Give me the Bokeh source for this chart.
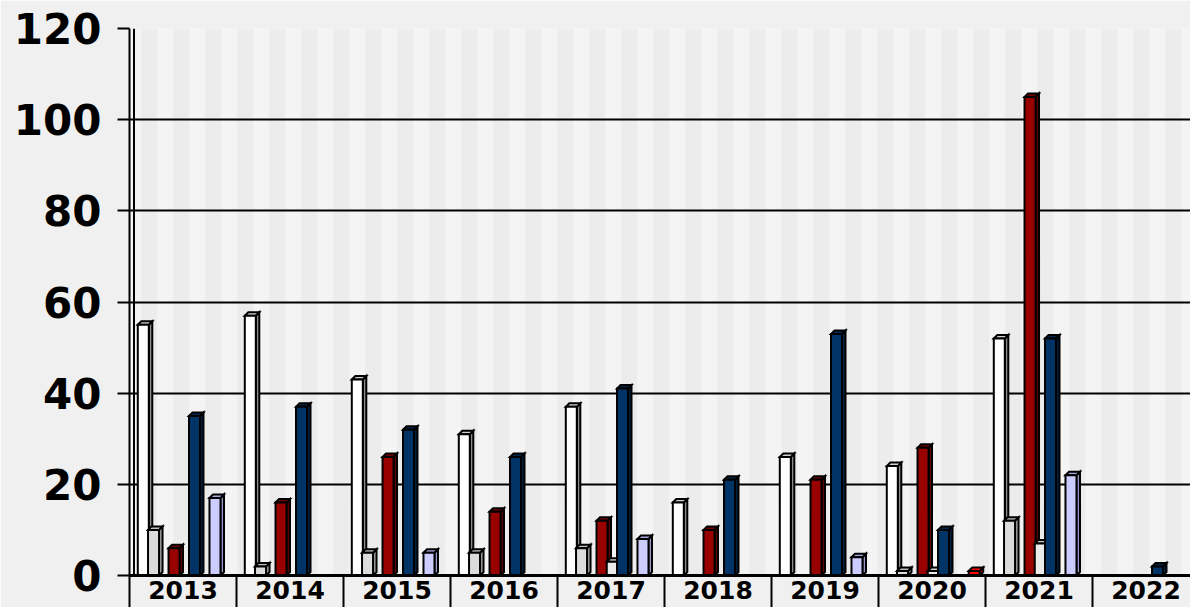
from bokeh.plotting import figure
from bokeh.models import Range1d, FixedTicker, Span, ColumnDataSource
from bokeh.embed import file_html
from bokeh.resources import INLINE

# ---------------- data ----------------
years = ["2013", "2014", "2015", "2016", "2017", "2018", "2019", "2020", "2021", "2022"]
series_white = [55, 57, 43, 31, 37, 16, 26, 24, 52, 0]
series_lightgray = [10, 2, 5, 5, 6, 0, 0, 1, 12, 0]
series_empty1 = [0, 0, 0, 0, 0, 0, 0, 0, 0, 0]
series_darkred = [6, 16, 26, 14, 12, 10, 21, 28, 105, 0]
series_pale = [0, 0, 0, 0, 3, 0, 0, 1, 7, 0]
series_navy = [35, 37, 32, 26, 41, 21, 53, 10, 52, 2]
series_empty2 = [0, 0, 0, 0, 0, 0, 0, 0, 0, 0]
series_lavender = [17, 0, 5, 0, 8, 0, 4, 0, 22, 0]
series_red = [0, 0, 0, 0, 0, 0, 0, 1, 0, 0]
y_ticks = [0, 20, 40, 60, 80, 100, 120]

all_series = [series_white, series_lightgray, series_empty1, series_darkred, series_pale,
              series_navy, series_empty2, series_lavender, series_red]
# (front, side, top) colours
styles = [("#ffffff", "#8c8c8c", "#d0d0d0"),
          ("#dcdcdc", "#a0a0a0", "#bdbdbd"),
          ("#cccccc", "#999999", "#b0b0b0"),
          ("#990000", "#5c0000", "#700000"),
          ("#ebebeb", "#b0b0b0", "#cfcfcf"),
          ("#003366", "#001f3f", "#00264d"),
          ("#cccccc", "#999999", "#b0b0b0"),
          ("#ccccff", "#9999cc", "#a8a8dc"),
          ("#ff0000", "#b30000", "#ff0000")]

# ---------------- layout ----------------
W, H = 1190, 607
LEFT, TOP, BOTTOM = 129, 28, 32
CAT_PX = 107.0
FRAME_W = W - LEFT
x_end = FRAME_W / CAT_PX
px_y = (H - TOP - BOTTOM) / 120.0

p = figure(width=W, height=H, output_backend="svg", toolbar_location=None,
           x_range=Range1d(0, x_end), y_range=Range1d(0, 120),
           min_border_left=LEFT, min_border_right=0, min_border_top=TOP,
           min_border_bottom=BOTTOM)
p.outline_line_color = None
p.background_fill_color = "#f4f4f4"
p.border_fill_color = "#f0f0f0"

# subtle vertical background stripes (decoration, 16px wide every 32px)
stripe_l, stripe_r = [], []
sx = 12.7
while sx < W:
    if sx + 16 > LEFT:
        stripe_l.append((max(sx, LEFT) - LEFT) / CAT_PX)
        stripe_r.append((min(sx + 16, W) - LEFT) / CAT_PX)
    sx += 32
p.quad(left=stripe_l, right=stripe_r, bottom=0, top=120, fill_color="#ececec",
       line_color=None, level="image")

# grid
p.xgrid.visible = False
p.ygrid.ticker = FixedTicker(ticks=y_ticks)
p.ygrid.grid_line_color = "#000000"
p.ygrid.grid_line_width = 2

# y axis
p.yaxis.ticker = FixedTicker(ticks=y_ticks)
p.yaxis.axis_line_color = "#000000"
p.yaxis.axis_line_width = 2
p.yaxis.major_tick_out = 12
p.yaxis.major_tick_in = 0
p.yaxis.major_tick_line_width = 2
p.yaxis.minor_tick_line_color = None
p.yaxis.minor_tick_out = 0
p.yaxis.major_label_standoff = 16
p.yaxis.major_label_text_font = "DejaVu Sans"
p.yaxis.major_label_text_font_style = "bold"
p.yaxis.major_label_text_font_size = "42px"
p.yaxis.major_label_text_color = "#000000"

# x axis
centers = [i + 0.5 for i in range(len(years))]
p.xaxis.ticker = FixedTicker(ticks=centers, minor_ticks=list(range(len(years) + 1)))
p.xaxis.major_label_overrides = {c: y for c, y in zip(centers, years)}
p.xaxis.axis_line_color = "#000000"
p.xaxis.axis_line_width = 3
p.xaxis.major_tick_out = 0
p.xaxis.major_tick_in = 0
p.xaxis.major_tick_line_color = None
p.xaxis.minor_tick_out = 32
p.xaxis.minor_tick_in = 0
p.xaxis.minor_tick_line_width = 2
p.xaxis.minor_tick_line_color = "#000000"
p.xaxis.major_label_standoff = -27
p.xaxis.major_label_text_font = "DejaVu Sans"
p.xaxis.major_label_text_font_style = "bold"
p.xaxis.major_label_text_font_size = "25px"
p.xaxis.major_label_text_color = "#000000"

# back-wall line
p.add_layout(Span(location=4.5 / CAT_PX, dimension="height", line_color="#000000", line_width=2))

# ---------------- 3D-look bars ----------------
first_off = 8.3 / CAT_PX
step = 10.24 / CAT_PX
bar_w = 11.0 / CAT_PX
dx = 3.5 / CAT_PX
dy = 3.5 / px_y

for k, vals in enumerate(all_series):
    front, side, topc = styles[k]
    L, R, T, sxs, sys_, txs, tys = [], [], [], [], [], [], []
    for i, v in enumerate(vals):
        if v <= 0:
            continue
        l = i + first_off + k * step
        r = l + bar_w
        L.append(l); R.append(r); T.append(v)
        sxs.append([r, r + dx, r + dx, r]); sys_.append([0, dy, v + dy, v])
        txs.append([l, l + dx, r + dx, r]); tys.append([v, v + dy, v + dy, v])
    if not L:
        continue
    p.patches(sxs, sys_, fill_color=side, line_color="#000000", line_width=2, line_join="miter")
    p.patches(txs, tys, fill_color=topc, line_color="#000000", line_width=2, line_join="miter")
    src = ColumnDataSource(dict(left=L, right=R, top=T))
    p.quad(left="left", right="right", bottom=0, top="top", source=src,
           fill_color=front, line_color="#000000", line_width=2, line_join="miter")

open("out.html", "w").write(file_html(p, INLINE))
